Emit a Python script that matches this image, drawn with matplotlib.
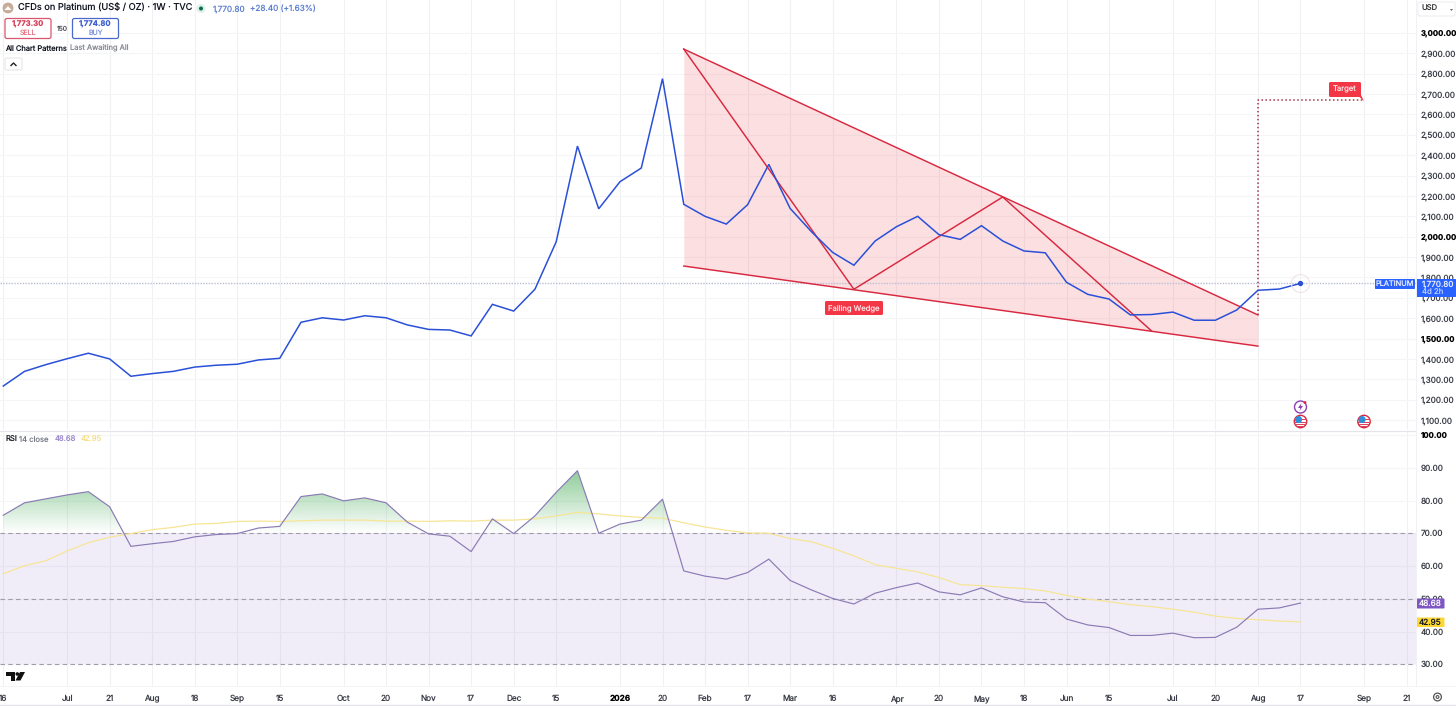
import numpy as np
import matplotlib
matplotlib.use("Agg")
import matplotlib.pyplot as plt
from matplotlib.patches import Circle, FancyBboxPatch, Rectangle, Polygon, PathPatch
from matplotlib.path import Path

plt.rcParams['font.family'] = ['Inter', 'DejaVu Sans']
plt.rcParams['text.hinting'] = 'none'

# ---------- data ----------
close_price = [1267,1339,1372,1401,1428,1400,1315,1328,1339,1360,
               1369,1374,1395,1403,1580,1602,1591,1612,1602,1567,
               1545,1542,1513,1668,1635,1742,1975,2445,2137,2270,
               2337,2776,2159,2100,2062,2157,2355,2139,2025,1923,
               1860,1979,2049,2100,2010,1987,2054,1979,1930,1921,
               1776,1717,1694,1616,1618,1630,1590,1590,1640,1737,
               1743,1770.8]
rsi_values = [75.5,79.3,80.5,81.7,82.7,78.1,66.0,66.8,67.5,68.9,
              69.6,69.9,71.6,72.1,81.2,82.0,79.9,80.8,79.3,73.4,
              69.8,69.1,64.4,74.4,69.9,75.3,82.5,89.1,70.0,72.8,
              74.0,80.4,58.5,56.9,56.0,58.0,62.1,55.6,52.7,50.1,
              48.4,51.7,53.4,54.8,52.1,51.2,53.3,50.6,49.0,48.8,
              43.8,42.0,41.2,38.8,38.8,39.5,38.1,38.2,41.3,46.8,
              47.2,48.68]
rsi_ma = [57.6,60.1,61.6,64.6,67.1,68.8,69.9,71.1,71.8,72.8,
          73.0,73.6,73.7,73.6,73.8,74.0,74.0,74.0,73.7,73.7,
          73.6,73.8,73.7,74.0,74.0,74.4,75.3,76.4,75.9,75.3,
          74.8,74.6,73.2,71.9,70.9,70.1,70.0,68.4,67.4,65.4,
          63.1,60.4,59.3,58.2,56.5,54.3,54.0,53.5,53.1,52.4,
          51.0,49.9,49.1,48.2,47.6,46.8,45.9,44.7,44.0,43.6,
          43.2,42.95]
wedge_upper_week = [32, 59]
wedge_upper_price = [2921, 1616]
wedge_lower_week = [32, 59]
wedge_lower_price = [1856, 1463]
zigzag_week = [32, 40, 47, 54]
zigzag_price = [2921, 1742, 2195, 1537]
target_week = [59, 59, 64]
target_price = [1616, 2671, 2671]
time_ticks = [0,3,5,7,9,11,13,16,18,20,22,24,26,29,31,33,35,37,39,42,44,46,48,50,52,55,57,59,61,64,66]
time_labels = ['16','Jul','21','Aug','18','Sep','15','Oct','20','Nov','17','Dec','15','2026','20',
               'Feb','17','Mar','16','Apr','20','May','18','Jun','15','Jul','20','Aug','17','Sep','21']
price_ticks = list(range(1100, 3001, 100))
rsi_ticks = [30, 40, 50, 60, 70, 80, 90, 100]
last_price = 1770.8

# ---------- layout helpers ----------
W, H = 1456, 706
fig = plt.figure(figsize=(W/100, H/100), dpi=100, facecolor='white')
def pane(x0, y0, x1, y1):
    return fig.add_axes([x0/W, 1-y1/H, (x1-x0)/W, (y1-y0)/H])

PLOT_R = 1416
ax = pane(0, 0, PLOT_R, 430)
ar = pane(0, 432, PLOT_R, 686)
weeks = np.arange(len(close_price))
x0w, x1w = -3.3/21.265, (PLOT_R-3.3)/21.265

GRID = '#f4f5f7'
VGRID = '#f0f1f5'
RED = '#d8283f'
BLUE = '#2a50d8'
TXT = '#131722'
AXF = 5.9
BOLDF = 5.6

for a in (ax, ar):
    a.set_xlim(x0w, x1w)
    for s in a.spines.values():
        s.set_visible(False)
    a.set_xticks(time_ticks)
    a.grid(True, axis='x', color=VGRID, lw=0.8)
    a.grid(True, axis='y', color=GRID, lw=0.8)
    a.set_axisbelow(True)
    a.tick_params(length=0)
    a.yaxis.tick_right()
    a.patch.set_alpha(0)

# ---------- price pane ----------
ax.set_ylim(3000-(430-33)*4.909, 3000+33*4.909)
ax.set_yticks(price_ticks)
ax.set_yticklabels([f'{p:,.2f}' for p in price_ticks], fontsize=AXF, color='#3a3d47')
for lab, p in zip(ax.get_yticklabels(), price_ticks):
    if p in (3000, 2000, 1500):
        lab.set_fontweight('bold')
        lab.set_fontsize(BOLDF)
        lab.set_color('#000000')
ax.tick_params(axis='y', pad=3.4)
ax.tick_params(axis='x', labelbottom=False)

ax.fill_between(wedge_upper_week, wedge_upper_price, wedge_lower_price,
                color='#f23645', alpha=0.155, lw=0, zorder=1)
ax.plot(wedge_upper_week, wedge_upper_price, color=RED, lw=1.05, zorder=3)
ax.plot(wedge_lower_week, wedge_lower_price, color=RED, lw=1.05, zorder=3)
ax.plot(zigzag_week, zigzag_price, color=RED, lw=1.05, zorder=3)
ax.plot(target_week, target_price, color='#a8324a', lw=1.1, ls=(0, (1, 1.6)), zorder=3)
ax.axhline(last_price, color='#b9bed6', lw=1.0, ls=(0, (1, 1)), zorder=2)
ax.plot(weeks, close_price, color=BLUE, lw=1.1, zorder=4, solid_joinstyle='miter')
ax.plot(weeks[-1], close_price[-1], 'o', ms=2.8, color=BLUE, zorder=5)
ax.plot(weeks[-1], close_price[-1], 'o', ms=13, mfc='none', mec='#f0e4e7', mew=0.8, zorder=4)

# ---------- RSI pane ----------
ar.set_ylim(100-(686-435)/3.275, 100+3/3.275)
ar.set_yticks(rsi_ticks)
ar.set_yticklabels([f'{r:.2f}' for r in rsi_ticks], fontsize=AXF, color='#3a3d47')
for lab, r in zip(ar.get_yticklabels(), rsi_ticks):
    if r == 100:
        lab.set_fontweight('bold')
        lab.set_fontsize(BOLDF)
        lab.set_color('#000000')
ar.tick_params(axis='y', pad=3.4)
ar.set_xticklabels(time_labels, fontsize=AXF, color='#3a3d47')
for lab, t in zip(ar.get_xticklabels(), time_labels):
    if t == '2026':
        lab.set_fontweight('bold')
        lab.set_color('#000000')
ar.tick_params(axis='x', pad=6.5)

ar.axhspan(30, 70, color='#7e57c2', alpha=0.105, lw=0, zorder=1)
for level in (70, 50, 30):
    ar.axhline(level, color='#a19cab', lw=0.8, ls=(0, (4, 3)), zorder=2)

rsi_arr = np.array(rsi_values)
fb = ar.fill_between(weeks, rsi_arr, 70, where=rsi_arr > 70, interpolate=True, alpha=0, lw=0)
clip = Path.make_compound_path(*fb.get_paths())
alpha_col = np.linspace(0.62, 0.0, 256).reshape(-1, 1)
grad = np.zeros((256, 1, 4))
grad[..., 0], grad[..., 1], grad[..., 2] = 0.25, 0.66, 0.32
grad[..., 3] = alpha_col
im = ar.imshow(grad, extent=[x0w, x1w, 70, 90], origin='upper', aspect='auto', zorder=1.5, interpolation='bilinear')
im.set_clip_path(PathPatch(clip, transform=ar.transData))
ar.set_xlim(x0w, x1w)
ar.set_ylim(100-(686-435)/3.275, 100+3/3.275)

ar.plot(weeks, rsi_ma, color='#f7e596', lw=0.9, zorder=3)
ar.plot(weeks, rsi_values, color='#8a7bb5', lw=0.85, zorder=4)

# ---------- overlay chrome (pixel coordinates) ----------
ov = fig.add_axes([0, 0, 1, 1], zorder=10)
ov.set_xlim(0, W); ov.set_ylim(H, 0); ov.axis('off'); ov.patch.set_alpha(0)

def box(x0, y0, x1, y1, fc, ec='none', r=1.5, lw=1.0):
    ov.add_patch(FancyBboxPatch((x0+r, y0+r), x1-x0-2*r, y1-y0-2*r,
                                boxstyle=f'round,pad={r},rounding_size={r}', fc=fc, ec=ec, lw=lw))
def txt(x, y, s, c=TXT, size=7, ha='left', w='normal'):
    ov.text(x, y, s, color=c, fontsize=size, ha=ha, va='center', fontweight=w)

# separators
ov.plot([0, PLOT_R], [431, 431], color='#e3e5ea', lw=0.8)
ov.plot([PLOT_R, PLOT_R], [0, 686], color='#f0f1f4', lw=0.7)
ov.plot([0, W], [686, 686], color='#f3f4f6', lw=0.7)
ov.plot([0, W], [705, 705], color='#e3e5ea', lw=1.0)

# header
ov.add_patch(Circle((8, 8), 5, fc='#c9ad98', ec='#b9a08c', lw=0.5))
ov.add_patch(Polygon([(4.5, 10), (8, 6), (11.5, 10)], fc='white', ec='none'))
txt(18, 8.5, 'CFDs on Platinum (US$ / OZ) · 1W · TVC', size=6.65)
ov.add_patch(Circle((201, 8.5), 4.5, fc='#dff0ea', ec='none'))
ov.add_patch(Circle((201, 8.5), 2, fc='#0b6b4f', ec='none'))
txt(213, 9, '1,770.80', c='#5c7fd0', size=5.9)
txt(250, 9, '+28.40 (+1.63%)', c='#5c7fd0', size=5.9)
box(5, 18.5, 51, 38.5, 'white', ec='#d9566b', r=2, lw=0.9)
txt(28, 24.5, '1,773.30', c='#d8405a', size=5.5, ha='center', w='bold')
txt(28, 33, 'SELL', c='#e67a8c', size=5.0, ha='center')
txt(62, 29, '150', c='#50535e', size=4.8, ha='center')
box(72.5, 18.5, 118.5, 38.5, 'white', ec='#4a68c8', r=2, lw=0.9)
txt(95.5, 24.5, '1,774.80', c='#3f60cf', size=5.5, ha='center', w='bold')
txt(95.5, 33, 'BUY', c='#7d95dc', size=5.0, ha='center')
txt(5, 48.5, 'All Chart Patterns', size=5.4)
txt(70.5, 48.5, 'Last Awaiting All', c='#8a8d96', size=5.4)
box(5, 58, 22, 70, 'white', ec='#e4e6ea', r=1.5, lw=0.8)
ov.plot([11, 13.5, 16], [65.5, 63, 65.5], color='#222', lw=1.0)

# USD box
box(1418, 2, 1455, 16, 'white', ec='#eceef2', r=1.5, lw=0.8)
txt(1421, 9, 'USD', size=5.5, c='#333')
ov.add_patch(Polygon([(1450, 9), (1453, 9), (1451.5, 11)], fc='#666', ec='none'))

# RSI legend
txt(5, 440, 'RSI', size=5.5)
txt(19, 440, '14 close', c='#787b86', size=5.5)
txt(55, 440, '48.68', c='#9a85c9', size=5.5)
txt(80.5, 440, '42.95', c='#f3e08a', size=5.5)

# pattern labels
box(825, 301, 883, 315, '#f23645', r=1.5)
txt(854, 308, 'Falling Wedge', c='#fde3e6', size=5.5, ha='center')
box(1329, 82, 1361, 97, '#f23645', r=1.5)
ov.add_patch(Polygon([(1357, 95), (1361, 95), (1364, 101)], fc='#f23645', ec='none'))
txt(1345, 89.5, 'Target', c='#fde3e6', size=5.5, ha='center')

# last price tags
box(1375, 279, 1415, 289, '#2962ff', r=0.8)
txt(1395, 284, 'PLATINUM', c='#e4eaff', size=5.3, ha='center')
box(1416, 279, 1456, 297, '#2962ff', r=0.8)
txt(1421.5, 284, '1,770.80', c='#eef2ff', size=5.85)
txt(1421.5, 292, '4d 2h', c='#b9cbff', size=5.6)

# RSI tags
box(1416.5, 598.5, 1444.5, 608.5, '#7e57c2', r=0.8)
txt(1430.5, 603.5, '48.68', c='white', size=5.9, ha='center')
box(1416.5, 617.5, 1444.5, 627, '#fdd835', r=0.8)
txt(1430.5, 622.3, '42.95', c=TXT, size=5.9, ha='center')

# event icons
ov.add_patch(Circle((1300.5, 407), 6, fc='white', ec='#8e3fb0', lw=1.0))
ov.add_patch(Polygon([(1301.5, 403), (1298, 408), (1300.3, 408), (1299.5, 411), (1303, 406), (1300.8, 406)],
                     fc='#8e3fb0', ec='none'))
ov.add_patch(Circle((1305, 402.5), 1.4, fc='#e0263f', ec='none'))
for cx in (1300.5, 1364):
    disc = Circle((cx, 421.5), 6.2, fc='white', ec='#d8283f', lw=1.0)
    ov.add_patch(disc)
    for dy in (-2.5, 0, 2.5, 4.5):
        st = Rectangle((cx-7, 421.5+dy), 14, 1.1, fc='#e0455a', ec='none')
        ov.add_patch(st)
        st.set_clip_path(disc)
    ca = Circle((cx-2, 419.5), 3.6, fc='#2f8fd8', ec='none')
    ov.add_patch(ca)
    ca.set_clip_path(disc)

# settings gear
ov.add_patch(Circle((1437.5, 697), 3.9, fc='none', ec='#555', lw=0.9))
ov.add_patch(Circle((1437.5, 697), 1.4, fc='none', ec='#555', lw=0.8))

# TV logo
ov.add_patch(Polygon([(6, 672), (14.5, 672), (14.5, 680.5), (10.5, 680.5), (10.5, 675.5), (6, 675.5)], fc='#111', ec='none'))
ov.add_patch(Circle((17.3, 674), 1.8, fc='#111', ec='none'))
ov.add_patch(Polygon([(20, 672), (25, 672), (20.5, 680.5), (15.5, 680.5)], fc='#111', ec='none'))

fig.savefig('out.png', dpi=100, facecolor='white')
